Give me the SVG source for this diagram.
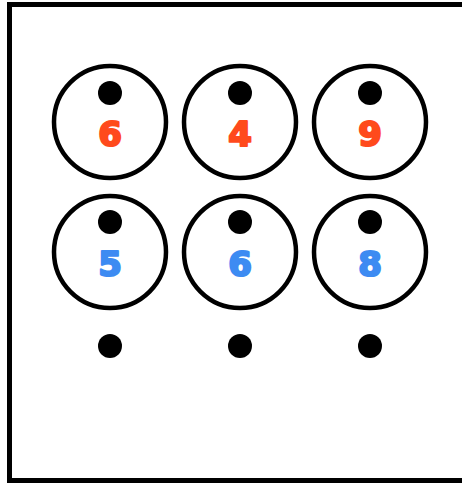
<svg xmlns="http://www.w3.org/2000/svg" width="462" height="483" viewBox="0 0 462 483">
<style>
.ring{fill:none;stroke:#000;stroke-width:4.5}
.dot{fill:#000}
.num{font-family:"DejaVu Sans",Lato,sans-serif;font-weight:700;font-size:34px;text-anchor:middle;stroke-width:2.2;stroke-linejoin:round}
.r{fill:#FF4A1C;stroke:#FF4A1C}
.b{fill:#3D8BF2;stroke:#3D8BF2}
</style>
<rect x="0" y="0" width="462" height="483" fill="#fff"/>
<rect x="9.5" y="4.5" width="470" height="476" fill="none" stroke="#000" stroke-width="5"/>
<g id="n1"><circle class="ring" cx="110" cy="122" r="56"/><circle class="dot" cx="110" cy="93" r="12"/><text class="num r" x="110" y="146">6</text></g>
<g id="n2"><circle class="ring" cx="240" cy="122" r="56"/><circle class="dot" cx="240" cy="93" r="12"/><text class="num r" x="240" y="146">4</text></g>
<g id="n3"><circle class="ring" cx="370" cy="122" r="56"/><circle class="dot" cx="370" cy="93" r="12"/><text class="num r" x="370" y="146">9</text></g>
<g id="n4"><circle class="ring" cx="110" cy="252" r="56"/><circle class="dot" cx="110" cy="222" r="12"/><text class="num b" x="110" y="276">5</text></g>
<g id="n5"><circle class="ring" cx="240" cy="252" r="56"/><circle class="dot" cx="240" cy="222" r="12"/><text class="num b" x="240" y="276">6</text></g>
<g id="n6"><circle class="ring" cx="370" cy="252" r="56"/><circle class="dot" cx="370" cy="222" r="12"/><text class="num b" x="370" y="276">8</text></g>
<g id="d1"><circle class="dot" cx="110" cy="346" r="12"/></g>
<g id="d2"><circle class="dot" cx="240" cy="346" r="12"/></g>
<g id="d3"><circle class="dot" cx="370" cy="346" r="12"/></g>
<g id="connectors"></g>
</svg>
